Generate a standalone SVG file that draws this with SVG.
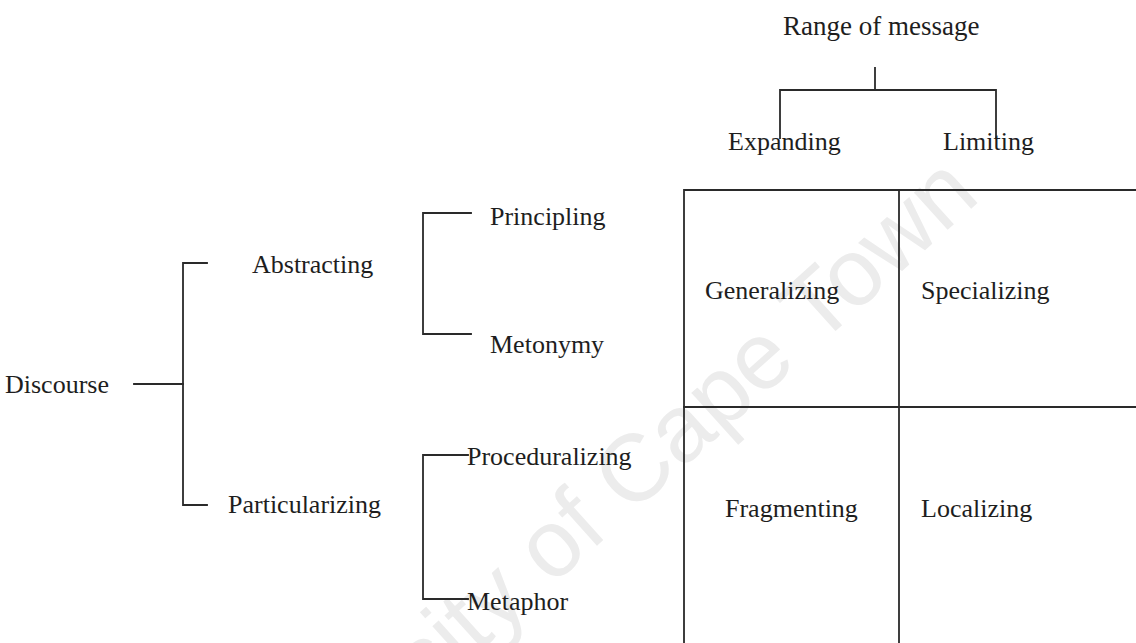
<svg xmlns="http://www.w3.org/2000/svg" width="1136" height="643" viewBox="0 0 1136 643">
<style>
.t{font-family:"Liberation Serif","Times New Roman",serif;font-size:26px;fill:#1e1e1e}
.ln{fill:none;stroke:#2a2a2a;stroke-width:1.8;stroke-linecap:square}
.wm{font-family:"Liberation Sans",Arial,sans-serif;font-size:95px;fill:#ececec}
</style>
<rect width="1136" height="643" fill="#ffffff"/>
<text class="wm" text-anchor="end" transform="translate(982,199) rotate(-42)">University of Cape Town</text>
<g id="connectors">
<path class="ln" d="M875,68 V90"/>
<path class="ln" d="M780,138 V90 H996 V137"/>
<path class="ln" d="M134,384 H183"/>
<path class="ln" d="M207,263 H183 V505 H207"/>
<path class="ln" d="M471,213 H423 V334 H471"/>
<path class="ln" d="M468,455 H423 V599 H468"/>
</g>
<g id="grid">
<path class="ln" d="M684,643 V190 H1136"/>
<path class="ln" d="M899,190 V643"/>
<path class="ln" d="M684,407 H1136"/>
</g>
<g id="range"><text class="t" x="783" y="35" style="font-size:27px">Range of message</text></g>
<g id="expanding"><text class="t" x="728" y="150">Expanding</text></g>
<g id="limiting"><text class="t" x="943" y="150">Limiting</text></g>
<g id="generalizing"><text class="t" x="705" y="299">Generalizing</text></g>
<g id="specializing"><text class="t" x="921" y="299">Specializing</text></g>
<g id="fragmenting"><text class="t" x="725" y="517">Fragmenting</text></g>
<g id="localizing"><text class="t" x="921" y="517">Localizing</text></g>
<g id="discourse"><text class="t" x="5" y="393">Discourse</text></g>
<g id="abstracting"><text class="t" x="252" y="273">Abstracting</text></g>
<g id="particularizing"><text class="t" x="228" y="513">Particularizing</text></g>
<g id="principling"><text class="t" x="490" y="225">Principling</text></g>
<g id="metonymy"><text class="t" x="490" y="353">Metonymy</text></g>
<g id="proceduralizing"><text class="t" x="467" y="465">Proceduralizing</text></g>
<g id="metaphor"><text class="t" x="467" y="610">Metaphor</text></g>
</svg>
